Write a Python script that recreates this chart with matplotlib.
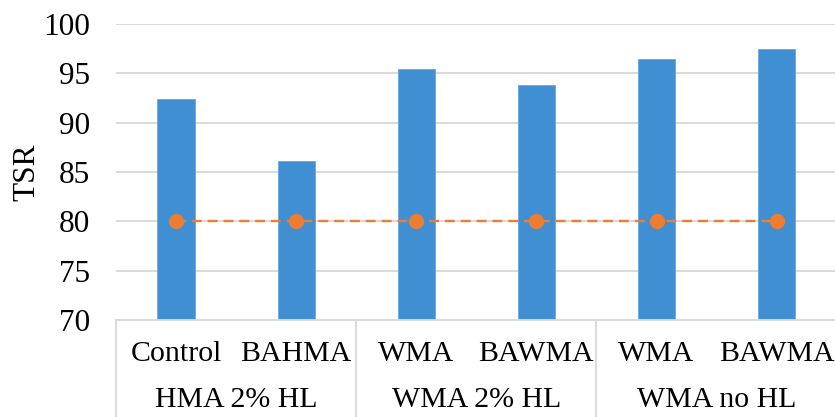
import matplotlib.pyplot as plt
from matplotlib.lines import Line2D
import numpy as np

plt.rcParams['font.family'] = ['Liberation Serif', 'DejaVu Serif']

kategoriat = ['Control', 'BAHMA', 'WMA', 'BAWMA', 'WMA', 'BAWMA']
ryhmat = ['HMA 2% HL', 'WMA 2% HL', 'WMA no HL']
tsr = [92.35, 86.1, 95.4, 93.85, 96.45, 97.5]
raja = [80, 80, 80, 80, 80, 80]

fig = plt.figure(figsize=(8.35, 4.17), dpi=100)
ax = fig.add_axes([0.139, 0.2326, 0.863, 0.7098])

x = np.arange(len(kategoriat))
ax.bar(x, tsr, width=0.31, color='#418fd3', edgecolor='#6aa7dc', linewidth=0.6, zorder=2)
ax.plot(x, raja, color='#ed7d31', linestyle=(0, (4.2, 2.5)), linewidth=1.7,
        marker='o', markersize=10, zorder=3)

ax.set_xlim(-0.5, len(kategoriat) - 0.5)
ax.set_ylim(70, 100)
ax.set_yticks(range(70, 101, 5))
ax.tick_params(axis='y', length=0, pad=19, labelsize=22.5)
ax.set_xticks([])
ax.yaxis.grid(True, color='#d9d9d9', linewidth=1.4, zorder=0)
ax.set_axisbelow(True)
for s in ['top', 'right', 'left']:
    ax.spines[s].set_visible(False)
ax.spines['bottom'].set_color('#d9d9d9')
ax.spines['bottom'].set_linewidth(1.4)

ax.set_ylabel('TSR', fontsize=22.5, labelpad=1)

# kaksitasoinen x-akseli
trans = ax.get_xaxis_transform()
for i, k in enumerate(kategoriat):
    ax.text(i, -0.115, k, transform=trans, ha='center', va='center', fontsize=21.5)
for j, r in enumerate(ryhmat):
    ax.text(2 * j + 0.5, -0.27, r, transform=trans, ha='center', va='center', fontsize=21.5)
for j in range(len(ryhmat) + 1):
    ax.add_line(Line2D([2 * j - 0.5, 2 * j - 0.5], [0, -0.34], transform=trans,
                       color='#d9d9d9', linewidth=1.4, clip_on=False))

plt.savefig('out.png', dpi=100)
